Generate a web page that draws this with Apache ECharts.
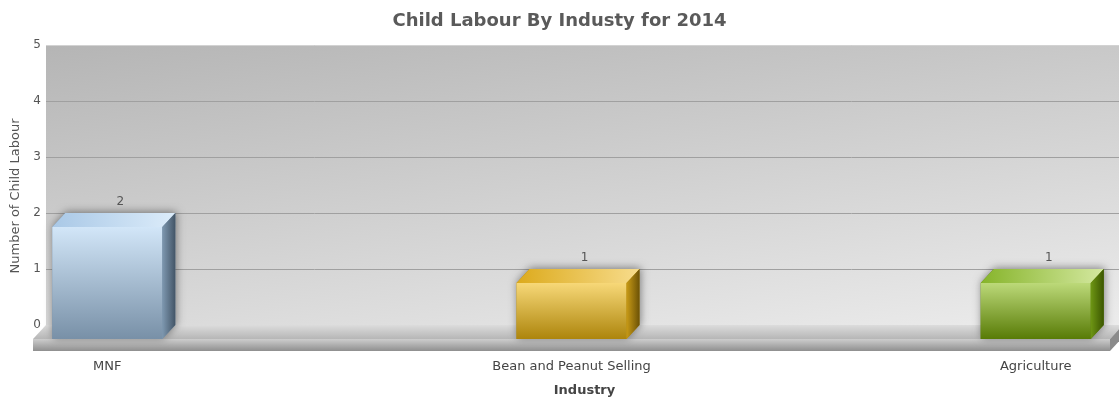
<!DOCTYPE html>
<html>
<head>
<meta charset="utf-8">
<script src="https://cdn.jsdelivr.net/npm/echarts@6/dist/echarts.min.js"></script>
<style>
  html, body { margin: 0; padding: 0; background: #fff; }
  #chart { width: 1119px; height: 400px; }
</style>
</head>
<body>
<div id="chart"></div>
<script>
const categories = ["MNF", "Bean and Peanut Selling", "Agriculture"];
const counts = [2, 1, 1];

// 3D look: depth offset of the front plane from the back wall (px)
const DX = 13, DY = 14, FLOOR_H = 12;
const BAR_W = 0.237; // in category units
const FONT = "DejaVu Sans, Verdana, sans-serif";

const lg = (x2, y2, stops) => new echarts.graphic.LinearGradient(0, 0, x2, y2,
  stops.map((c, i) => ({ offset: i / (stops.length - 1), color: c })));

const PALETTE = [
  { front: ["#d2e6f8", "#7890a7"], top: ["#a9c8e6", "#dcecfa"], side: ["#7e98b0", "#435567"] },
  { front: ["#f7d878", "#ad850c"], top: ["#dcaa1c", "#f7dc8c"], side: ["#c89a16", "#6c5206"] },
  { front: ["#bcd979", "#587b06"], top: ["#86b42a", "#d4e8a0"], side: ["#6e9614", "#3b5600"] },
];

function renderFloor(params, api) {
  const cs = params.coordSys;
  const x = cs.x, w = cs.width, yb = cs.y + cs.height;
  return {
    type: "group",
    children: [
      { type: "polygon", shape: { points: [[x, yb], [x + w, yb], [x + w - DX, yb + DY], [x - DX, yb + DY]] },
        style: { fill: lg(0, 1, ["#dcdcdc", "#b6b6b6"]) } },
      { type: "rect", shape: { x: x - DX, y: yb + DY, width: w, height: FLOOR_H },
        style: { fill: lg(0, 1, ["#cdcdcd", "#8f8f8f"]) } },
      { type: "polygon", shape: { points: [[x + w - DX, yb + DY], [x + w, yb], [x + w, yb + FLOOR_H], [x + w - DX, yb + DY + FLOOR_H]] },
        style: { fill: "#8a8a8a" } },
    ],
  };
}

function renderBar(params, api) {
  const i = api.value(0), v = api.value(1);
  const top = api.coord([i, v]);
  const base = api.coord([i, 0]);
  const half = api.size([BAR_W, 0])[0] / 2;
  const cx = top[0] - DX;
  const fl = cx - half, fr = cx + half;
  const ft = top[1] + DY, fb = base[1] + DY;
  const p = PALETTE[params.dataIndex % PALETTE.length];
  return {
    type: "group",
    children: [
      { type: "polygon",
        shape: { points: [[fl, fb], [fl, ft], [fl + DX, ft - DY], [fr + DX, ft - DY], [fr + DX, fb - DY], [fr, fb]] },
        style: { fill: p.front[1], shadowBlur: 9, shadowColor: "rgba(0,0,0,0.45)", shadowOffsetX: 1, shadowOffsetY: -1 } },
      { type: "rect", shape: { x: fl, y: ft, width: fr - fl, height: fb - ft },
        style: { fill: lg(0, 1, p.front) } },
      { type: "polygon", shape: { points: [[fl, ft], [fr, ft], [fr + DX, ft - DY], [fl + DX, ft - DY]] },
        style: { fill: lg(1, 0, p.top) } },
      { type: "polygon", shape: { points: [[fr, ft], [fr + DX, ft - DY], [fr + DX, fb - DY], [fr, fb]] },
        style: { fill: lg(1, 0, p.side) } },
      { type: "text", style: { x: top[0], y: top[1] - 5, text: String(v), align: "center", verticalAlign: "bottom",
        fill: "#555", font: "12px " + FONT } },
      { type: "text", style: { x: cx, y: base[1] + 42, text: categories[i], align: "center", verticalAlign: "middle",
        fill: "#444", font: "13px " + FONT } },
    ],
  };
}

const chart = echarts.init(document.getElementById("chart"), null, { renderer: "canvas" });
chart.setOption({
  animation: false,
  backgroundColor: "#fff",
  textStyle: { fontFamily: FONT },
  title: {
    text: "Child Labour By Industy for 2014",
    left: "center", top: 7,
    textStyle: { fontSize: 18, fontWeight: "bold", color: "#5a5a5a", fontFamily: FONT },
  },
  grid: {
    left: 46, right: -4, top: 45, bottom: 75,
    outerBoundsMode: "none", containLabel: false,
    show: true, borderWidth: 0,
    backgroundColor: new echarts.graphic.LinearGradient(46, 45, 108, 472,
      [{ offset: 0, color: "#b5b5b5" }, { offset: 1, color: "#ececec" }], true),
  },
  xAxis: {
    type: "value", min: -0.16, max: 2.16,
    name: "Industry", nameLocation: "middle", nameGap: 59,
    nameTextStyle: { fontSize: 13, fontWeight: "bold", color: "#444", fontFamily: FONT },
    axisLine: { show: false }, axisTick: { show: false }, axisLabel: { show: false }, splitLine: { show: false },
  },
  yAxis: {
    type: "value", min: 0, max: 5, interval: 1,
    name: "Number of Child Labour", nameLocation: "middle", nameGap: 24,
    nameTextStyle: { fontSize: 13, color: "#555", fontFamily: FONT, padding: [0, 22, 0, 0] },
    axisLine: { show: false }, axisTick: { show: false },
    axisLabel: { margin: 5, fontSize: 12, color: "#555", fontFamily: FONT },
    splitLine: { lineStyle: { color: ["#a0a0a0", "#a0a0a0", "#a0a0a0", "#a0a0a0", "#a0a0a0", "#d2d2d2"], width: 1 } },
  },
  series: [
    { type: "custom", name: "floor", renderItem: renderFloor, data: [[0, 0]], silent: true, z: 1 },
    { type: "custom", name: "Child Labour", renderItem: renderBar, z: 2,
      data: counts.map((c, i) => [i, c]) },
  ],
});
</script>
</body>
</html>
